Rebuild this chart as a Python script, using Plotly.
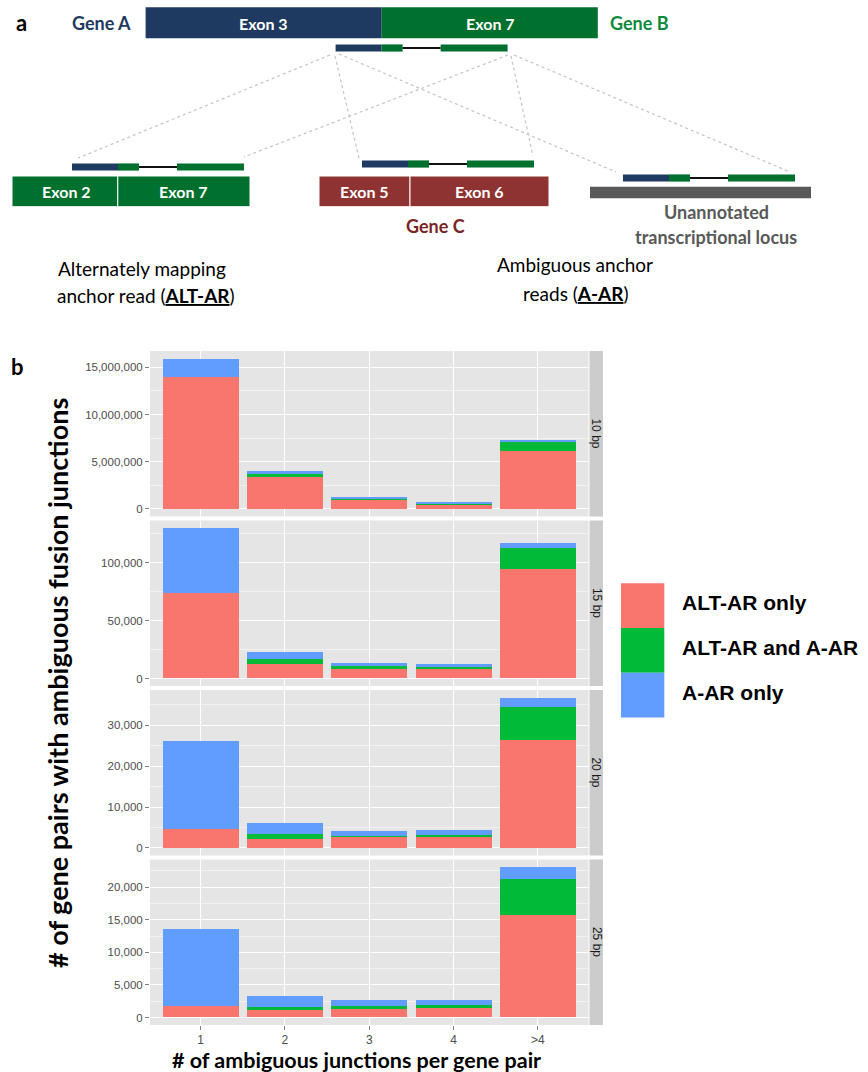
import plotly.graph_objects as go

W, H = 868, 1072

# ---------------- data ----------------
categories = ["1", "2", "3", "4", ">4"]
facets = ["10 bp", "15 bp", "20 bp", "25 bp"]
series_names = ["ALT-AR only", "ALT-AR and A-AR", "A-AR only"]
series_colors = ["#F8766D", "#00BA38", "#619CFF"]

alt_only = [
    [14000000, 3420000, 1000000, 450000, 6140000],
    [74000, 12800, 9400, 9100, 95000],
    [4700, 2300, 2700, 2700, 26400],
    [1700, 1200, 1500, 1500, 15800],
]
alt_and_a = [
    [0, 310000, 150000, 180000, 970000],
    [0, 3700, 1100, 1200, 18000],
    [0, 1000, 350, 400, 8100],
    [0, 450, 200, 450, 5500],
]
a_only = [
    [1930000, 320000, 100000, 100000, 140000],
    [56000, 6600, 3200, 2500, 4000],
    [21400, 2900, 1150, 1400, 2300],
    [11900, 1650, 950, 700, 1800],
]
y_dticks = [5000000, 50000, 10000, 5000]

# ---------------- helpers ----------------
def px(x):
    return x / W

def py(y):
    return 1 - y / H

fig = go.Figure()
shapes = []
annos = []

def rect(x0, y0, x1, y1, fill, lw=0, lc="white", layer="above"):
    shapes.append(dict(type="rect", xref="paper", yref="paper",
                       x0=px(x0), x1=px(x1), y0=py(y1), y1=py(y0),
                       fillcolor=fill, line=dict(width=lw, color=lc), layer=layer))

def line(x0, y0, x1, y1, color, width, dash="solid"):
    shapes.append(dict(type="line", xref="paper", yref="paper",
                       x0=px(x0), x1=px(x1), y0=py(y0), y1=py(y1),
                       line=dict(color=color, width=width, dash=dash)))

def text(x, y, s, size, color="#000000", family="Lato", angle=0, xanchor="center"):
    annos.append(dict(x=px(x), y=py(y), xref="paper", yref="paper", text=s,
                      showarrow=False, font=dict(family=family, size=size, color=color),
                      textangle=angle, xanchor=xanchor, yanchor="middle"))

# ---------------- panel a (schematic) ----------------
NAVY = "#1F3A60"
GREEN = "#00702E"
DRED = "#8F3232"
GREY = "#595959"

dash_col = "#C4C4C4"
dash_lines = [
    (330, 55, 78, 158), (508, 55, 244, 157),
    (335, 56, 359, 158), (511, 56, 533, 156),
    (339, 54, 616, 172), (514, 55, 790, 172),
]
for (a, b, c, d) in dash_lines:
    line(a, b, c, d, dash_col, 1.2, "3px,3px")

# top fusion bar
rect(145.6, 7.3, 381.7, 38.3, NAVY)
rect(381.7, 7.3, 597.8, 38.3, GREEN)
text(263, 23, "<b>Exon 3</b>", 16, "white")
text(490, 23, "<b>Exon 7</b>", 16, "white")
text(101, 23, "<b>Gene A</b>", 18, NAVY)
text(639, 23, "<b>Gene B</b>", 18, "#0E8A3C")
text(21, 22, "<b>a</b>", 22, "#000000")

def read(x0, yc):
    h = 3.6
    rect(x0, yc - h, x0 + 46, yc + h, NAVY)
    rect(x0 + 46, yc - h, x0 + 67, yc + h, GREEN)
    line(x0 + 67, yc, x0 + 105, yc, "#111111", 2)
    rect(x0 + 105, yc - h, x0 + 172, yc + h, GREEN)

read(335.6, 48)
read(72, 167)
read(362, 164)
read(623, 178)

# left: alternate mapping
rect(12, 176, 117.8, 206.7, GREEN, 1, "white")
rect(117.8, 176, 250, 206.7, GREEN, 1, "white")
text(66, 191.5, "<b>Exon 2</b>", 16, "white")
text(183, 191.5, "<b>Exon 7</b>", 16, "white")

# middle: gene C
rect(319, 176, 410, 206.7, DRED, 1, "white")
rect(410, 176, 549, 206.7, DRED, 1, "white")
text(364, 191.5, "<b>Exon 5</b>", 16, "white")
text(479, 191.5, "<b>Exon 6</b>", 16, "white")
text(435, 226, "<b>Gene C</b>", 18, "#7A2424")

# right: unannotated locus
rect(590, 186.7, 811, 198.3, GREY)
text(716, 211.5, "<b>Unannotated</b>", 18, GREY)
text(716, 236.5, "<b>transcriptional locus</b>", 18, GREY)

text(142, 268.5, "Alternately mapping", 19)
text(146, 295, "anchor read (<u><b>ALT-AR</b></u>)", 19)
text(575, 265, "Ambiguous anchor", 19)
text(576, 293.5, "reads (<u><b>A-AR</b></u>)", 19)

# ---------------- panel b (faceted stacked bars) ----------------
panel_tops = [351, 520.5, 690, 859.5]
panel_h = 165.5
x_left, x_right = 150, 588.5
layout_axes = {}
series_data = [alt_only, alt_and_a, a_only]

for i in range(4):
    xa = "x" if i == 0 else f"x{i+1}"
    ya = "y" if i == 0 else f"y{i+1}"
    for name, col, data in zip(series_names, series_colors, series_data):
        fig.add_trace(go.Bar(x=categories, y=data[i], name=name,
                             marker=dict(color=col, line=dict(width=0)),
                             width=0.9, xaxis=xa, yaxis=ya, showlegend=False,
                             hovertemplate="%{x}: %{y:,}<extra>" + name + "</extra>"))
    totals = [sum(s[i][k] for s in series_data) for k in range(len(categories))]
    ymax = max(totals)
    top = panel_tops[i]
    bottom = top + panel_h
    last = (i == 3)
    layout_axes["xaxis" if i == 0 else f"xaxis{i+1}"] = dict(
        domain=[px(x_left), px(x_right)], anchor=ya, type="category",
        categoryorder="array", categoryarray=categories,
        range=[-0.6, len(categories) - 0.4],
        showgrid=True, gridcolor="white", gridwidth=1.2,
        zeroline=False, showline=False,
        showticklabels=last, ticks="outside" if last else "",
        ticklen=4, tickcolor="#7F7F7F", tickwidth=1, ticklabelstandoff=0,
        tickfont=dict(family="Liberation Sans", size=12, color="#4D4D4D"),
        fixedrange=True,
    )
    layout_axes["yaxis" if i == 0 else f"yaxis{i+1}"] = dict(
        domain=[py(bottom), py(top)], anchor=xa,
        range=[-0.05 * ymax, 1.05 * ymax], dtick=y_dticks[i], tick0=0,
        tickformat=",d", ticks="outside", ticklen=4, tickcolor="#7F7F7F", tickwidth=1,
        tickfont=dict(family="Liberation Sans", size=11.5, color="#4D4D4D"),
        showgrid=True, gridcolor="white", gridwidth=1.2,
        minor=dict(dtick=y_dticks[i] / 2, tick0=0, showgrid=True,
                   gridcolor="#F2F2F2", gridwidth=0.8),
        zeroline=False, showline=False, fixedrange=True,
    )
    # facet strip
    rect(589.5, top, 603, bottom, "#CCCCCC", layer="below")
    text(596.3, top + panel_h / 2, facets[i], 12, "#1A1A1A", "Liberation Sans", angle=90)

# axis titles
text(57, 683, "<b># of gene pairs with ambiguous fusion junctions</b>", 27, "#000000", angle=-90)
text(356, 1059.5, "<b># of ambiguous junctions per gene pair</b>", 21.5, "#000000")
text(17, 366, "<b>b</b>", 22, "#000000")

# legend (manual, large keys)
leg_top = 583.3
leg_h = 44.7
for k, (name, col) in enumerate(zip(series_names, series_colors)):
    y0 = leg_top + k * leg_h
    rect(621, y0, 664.3, y0 + leg_h, col)
    text(680, y0 + leg_h / 2 - 3, "<b>" + name + "</b>", 21, "#000000",
         "Liberation Sans", xanchor="left")

fig.update_layout(
    width=W, height=H,
    margin=dict(l=0, r=0, t=0, b=0),
    paper_bgcolor="white", plot_bgcolor="#E5E5E5",
    barmode="stack", showlegend=False,
    shapes=shapes, annotations=annos,
    **layout_axes,
)

fig.write_html("out.html", config={"displayModeBar": False},
               post_script="document.body.style.margin='0px';")
